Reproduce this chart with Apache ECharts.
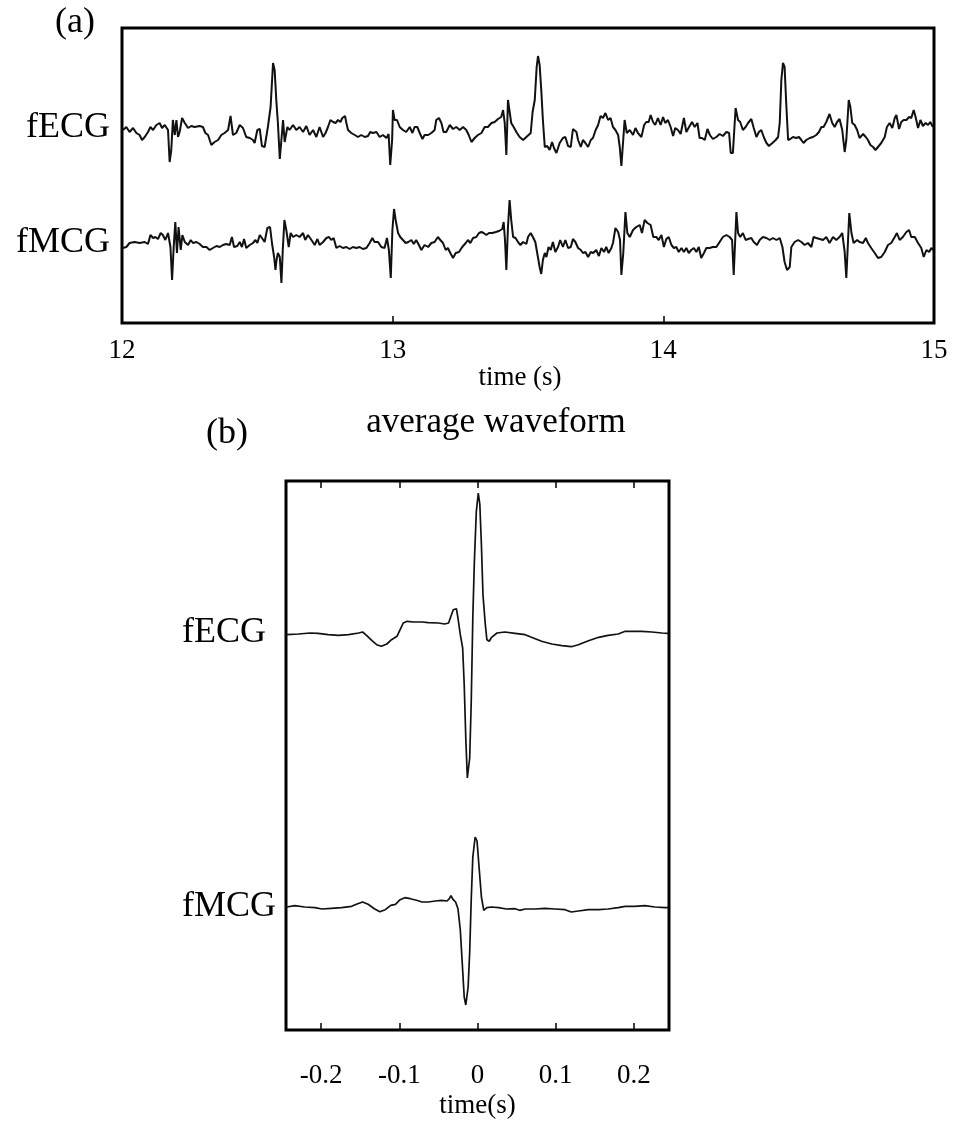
<!DOCTYPE html>
<html><head><meta charset="utf-8">
<script src="https://cdn.jsdelivr.net/npm/echarts@6/dist/echarts.min.js"></script>
<style>html,body{margin:0;padding:0;background:#fff}#c{width:956px;height:1136px}</style>
</head><body><div id="c"></div>
<script>
// ---------- Panel (a): raw traces, 12-15 s (amplitude in arbitrary units) ----------
const tA_ecg = [12.004,12.016,12.028,12.041,12.053,12.065,12.074,12.084,12.096,12.105,12.115,12.127,12.139,12.148,12.158,12.170,12.176,12.182,12.188,12.195,12.201,12.207,12.213,12.222,12.232,12.244,12.256,12.268,12.287,12.299,12.308,12.318,12.330,12.342,12.355,12.367,12.379,12.392,12.401,12.410,12.422,12.435,12.447,12.459,12.472,12.484,12.490,12.500,12.509,12.517,12.527,12.539,12.549,12.558,12.564,12.570,12.576,12.583,12.589,12.595,12.601,12.611,12.619,12.632,12.644,12.656,12.669,12.681,12.693,12.706,12.718,12.730,
12.743,12.752,12.761,12.770,12.780,12.789,12.798,12.807,12.814,12.824,12.829,12.835,12.847,12.860,12.872,12.884,12.897,12.909,12.917,12.927,12.940,12.952,12.964,12.977,12.985,12.991,12.998,13.001,13.007,13.016,13.026,13.038,13.050,13.063,13.073,13.081,13.091,13.100,13.110,13.118,13.131,13.143,13.155,13.161,13.171,13.180,13.188,13.198,13.211,13.223,13.235,13.248,13.260,13.272,13.281,13.291,13.303,13.315,13.328,13.340,13.352,13.365,13.377,13.389,13.401,13.408,13.414,13.420,13.426,13.432,13.438,13.447,13.457,13.469,13.482,13.494,
13.510,13.517,13.525,13.532,13.537,13.543,13.549,13.555,13.562,13.571,13.580,13.589,13.596,13.605,13.617,13.629,13.638,13.648,13.658,13.666,13.679,13.685,13.695,13.703,13.712,13.722,13.732,13.740,13.750,13.759,13.768,13.777,13.786,13.796,13.805,13.814,13.823,13.833,13.839,13.845,13.851,13.857,13.865,13.876,13.888,13.897,13.906,13.919,13.929,13.937,13.946,13.953,13.962,13.970,13.980,13.990,13.999,14.007,14.017,14.027,14.036,14.044,14.054,14.064,14.076,14.085,14.095,14.106,14.116,14.126,14.134,14.143,14.153,14.163,14.172,14.183,14.196,14.208,14.220,14.233,14.243,14.249,14.257,
14.267,14.276,14.284,14.294,14.304,14.313,14.325,14.334,14.344,14.353,14.362,14.371,14.381,14.390,14.403,14.415,14.424,14.430,14.436,14.442,14.448,14.454,14.461,14.469,14.479,14.491,14.501,14.510,14.518,14.528,14.541,14.553,14.565,14.575,14.584,14.592,14.602,14.614,14.624,14.633,14.642,14.651,14.661,14.670,14.676,14.685,14.691,14.698,14.707,14.716,14.725,14.738,14.748,14.756,14.765,14.775,14.784,14.793,14.805,14.818,14.826,14.836,14.846,14.855,14.861,14.871,14.879,14.888,14.898,14.908,14.916,14.925,14.932,14.941,14.950,14.959,14.969,14.978,14.986,14.996];
const vA_ecg = [-2,1,-4,0,-5,-7,-12,-9,-4,1,-2,3,5,0,3,-2,-34,-22,8,-7,8,-9,-4,10,5,0,2,1,2,1,-5,-7,-17,-14,-12,-7,-5,-2,12,-7,-5,3,0,-9,-10,-12,-15,-2,-1,-18,-19,1,21,65,58,28,5,-31,-29,8,-14,1,-2,3,-2,1,-4,2,-7,-2,-9,1,
-9,-5,1,8,6,5,8,6,10,12,5,-2,-5,-7,-9,-7,-9,-8,-4,-5,-4,-9,-7,-10,-6,-37,-12,18,8,8,1,-2,-4,1,-5,1,1,-5,-11,-7,-7,-5,-2,8,10,5,-4,-4,3,-1,1,-2,1,-2,-7,-14,-10,-7,-5,1,1,5,6,9,11,18,5,-27,28,26,5,1,-4,-9,-12,-9,
-5,16,28,61,72,63,38,8,-19,-18,-22,-14,-20,-25,-15,-10,-9,-18,-19,-1,-4,-12,-19,-12,-15,-19,-12,-10,-2,3,12,10,15,8,10,1,-2,-7,-19,-38,-15,8,-5,-2,-7,0,-5,-9,3,6,6,13,6,3,10,3,11,5,8,1,-8,0,-2,-6,10,-4,1,6,1,5,-10,-10,-12,-1,-7,-11,-9,-6,-8,-4,-5,-25,-25,
20,8,6,-2,1,5,9,0,-9,-4,-2,-9,-15,-18,-15,-12,-9,5,48,65,61,25,-12,-11,-9,-10,-9,-12,-15,-12,-10,-9,-7,-4,1,1,6,14,5,1,6,9,-2,-24,-12,28,21,5,3,-2,-10,-6,-9,-12,-17,-19,-22,-19,-15,-9,1,5,0,10,13,-1,6,8,8,11,10,18,11,0,8,2,5,3,6,1];

const tA_mcg = [12.004,12.016,12.028,12.047,12.065,12.084,12.096,12.105,12.115,12.123,12.133,12.143,12.151,12.160,12.170,12.179,12.185,12.191,12.197,12.203,12.209,12.217,12.223,12.232,12.244,12.254,12.262,12.275,12.287,12.299,12.312,12.324,12.336,12.349,12.361,12.373,12.385,12.398,12.406,12.414,12.426,12.435,12.443,12.451,12.459,12.472,12.484,12.493,12.500,12.509,12.517,12.527,12.537,12.547,12.554,12.562,12.567,12.571,12.576,12.583,12.589,12.594,12.600,12.607,12.616,12.623,12.632,12.644,12.656,12.669,12.677,12.687,12.700,12.712,12.722,12.730,
12.743,12.755,12.765,12.773,12.782,12.792,12.804,12.816,12.829,12.841,12.853,12.866,12.878,12.890,12.903,12.915,12.925,12.933,12.946,12.958,12.970,12.979,12.986,12.993,12.999,13.005,13.011,13.020,13.028,13.038,13.048,13.058,13.069,13.078,13.087,13.097,13.106,13.118,13.131,13.143,13.155,13.167,13.176,13.186,13.196,13.204,13.213,13.223,13.233,13.245,13.257,13.270,13.278,13.287,13.297,13.309,13.319,13.328,13.336,13.346,13.356,13.368,13.381,13.393,13.405,13.410,13.415,13.420,13.426,13.432,13.438,13.445,13.454,13.463,13.472,13.482,13.494,
13.500,13.510,13.518,13.527,13.534,13.543,13.549,13.555,13.562,13.568,13.576,13.584,13.592,13.601,13.611,13.619,13.629,13.638,13.648,13.658,13.666,13.675,13.685,13.695,13.703,13.712,13.722,13.732,13.741,13.752,13.762,13.771,13.781,13.789,13.798,13.808,13.814,13.823,13.833,13.840,13.845,13.852,13.860,13.867,13.876,13.888,13.900,13.913,13.921,13.931,13.941,13.953,13.963,13.974,13.983,13.993,14.002,14.011,14.020,14.030,14.039,14.048,14.057,14.067,14.076,14.085,14.094,14.103,14.113,14.122,14.131,14.140,14.150,14.159,14.171,14.183,14.196,14.208,14.220,14.233,14.245,14.254,14.260,
14.270,14.276,14.284,14.294,14.304,14.313,14.325,14.334,14.346,14.356,14.368,14.381,14.393,14.405,14.418,14.430,14.440,14.448,14.457,14.467,14.473,14.485,14.498,14.510,14.522,14.534,14.547,14.555,14.565,14.578,14.590,14.602,14.614,14.627,14.639,14.651,14.661,14.670,14.676,14.682,14.687,14.695,14.703,14.716,14.725,14.738,14.748,14.756,14.768,14.781,14.793,14.805,14.818,14.830,14.842,14.855,14.863,14.873,14.885,14.898,14.908,14.916,14.929,14.941,14.953,14.962,14.972,14.982,14.990,14.996];
const vA_mcg = [-3,-2,2,3,2,3,1,10,7,8,6,12,10,5,12,-2,-35,-2,23,-8,18,-5,10,3,0,5,2,3,1,-2,-2,-5,-3,-1,-2,0,1,0,8,-2,-1,3,-2,6,-3,0,2,5,2,10,7,3,17,18,2,-12,-25,-15,-8,-12,-38,-5,25,15,-2,12,8,10,8,12,5,10,5,0,6,0,
3,7,8,5,7,-3,-1,-3,-2,-4,-2,-3,-2,-4,-3,2,7,3,3,-2,-3,7,-5,-33,15,36,25,12,8,5,2,3,5,1,5,0,-5,0,-2,2,3,8,5,2,-5,-3,-8,-13,-8,-7,-2,2,5,2,7,8,12,13,12,10,12,12,13,14,16,23,5,-25,18,45,25,8,7,3,0,3,1,
8,12,8,3,-8,-22,-29,-15,-8,-12,-2,-5,3,-7,-2,5,-2,5,-3,-2,6,3,-3,-5,-8,-7,-12,-7,-8,-5,-11,-3,-7,-2,-8,-3,2,17,13,5,-30,-8,33,12,8,15,18,20,12,25,22,20,8,8,5,10,-2,6,8,0,-3,-2,-7,-3,-7,-3,-8,-5,-3,-7,-2,-13,-8,-3,-3,-2,-2,3,8,10,8,5,-30,
33,12,8,12,5,6,7,3,0,5,8,7,5,7,5,7,-2,-17,-25,-22,-2,3,5,3,0,2,-2,8,7,6,5,8,2,8,5,8,12,-7,-33,2,32,12,2,5,3,2,7,2,-3,-8,-13,-12,-7,0,2,8,12,5,8,13,15,8,8,2,-3,-12,-5,-7,-3,-5];

// ---------- Panel (b): average waveforms, -0.245..0.245 s ----------
const tB_ecg = [-0.244,-0.229,-0.214,-0.204,-0.191,-0.178,-0.165,-0.152,-0.147,-0.142,-0.135,-0.129,-0.123,-0.116,-0.110,-0.103,-0.099,-0.095,-0.090,-0.082,-0.071,-0.063,-0.050,-0.042,-0.037,-0.034,-0.031,-0.027,-0.025,-0.022,-0.019,-0.017,-0.015,-0.013,-0.010,-0.008,-0.006,-0.004,-0.0015,0.001,0.003,0.005,0.007,0.010,0.012,0.015,0.018,0.025,0.035,0.048,0.061,0.069,0.082,0.095,0.108,0.120,0.129,0.142,0.155,0.167,0.180,0.189,0.197,0.210,0.223,0.236,0.244];
const vB_ecg = [-0.7,0,1,0.7,-0.7,-1.3,-0.7,1,2,-1.3,-6.7,-10.7,-12.3,-10,-5.7,-2.3,4.3,11,12.7,12,12,11.3,11,10,11,17.7,24.3,25.3,16,-0.7,-14,-50.7,-104,-144,-124,-67.3,16,72.7,122.7,141,129.3,89.3,39.3,9.3,-5.7,-7.3,-3.3,1,2,0.7,-0.7,-3.3,-7.3,-10,-11.7,-12.7,-10.7,-6.7,-3.3,-1.3,0,2.7,2.7,2.7,2,1,0.7];

const tB_mcg = [-0.244,-0.234,-0.221,-0.208,-0.199,-0.187,-0.174,-0.161,-0.155,-0.147,-0.140,-0.132,-0.125,-0.118,-0.111,-0.105,-0.099,-0.093,-0.086,-0.078,-0.071,-0.063,-0.054,-0.046,-0.039,-0.036,-0.034,-0.031,-0.028,-0.025,-0.022,-0.019,-0.017,-0.015,-0.012,-0.010,-0.008,-0.006,-0.003,-0.0006,0.002,0.005,0.008,0.012,0.018,0.027,0.037,0.048,0.054,0.061,0.074,0.086,0.099,0.112,0.120,0.129,0.142,0.155,0.167,0.180,0.189,0.201,0.214,0.227,0.240,0.244];
const vB_mcg = [0,1.3,0,-0.7,-2,-1.3,-0.7,0.7,2.7,5,2.7,-1.7,-4.7,-2.7,1.7,2.7,7.3,9.3,8.3,6.7,5,5,6,6.7,6,8.3,11.3,7.3,5,-1.7,-23,-63,-90,-98,-80,-45,8,50,70,66,40,10,-3.3,-0.7,0,-0.7,-2,-1.7,-3.3,-2,-2,-1.3,-2,-2.7,-5,-4,-2.7,-2.7,-2,-0.7,0.7,0.7,1.3,0,-0.7,-0.7];

const xTicksA = [12, 13, 14, 15];

// vertical placement of the stacked traces (display offsets)
const OFF_A = {ecg:195, mcg:78}, OFF_B = {ecg:396, mcg:123};
function zip(t, v, off){ return t.map((x,i)=>[x, v[i]+off]); }

const FONT = '"Liberation Serif","Times New Roman",serif';
const chart = echarts.init(document.getElementById('c'));
const tickStyle = {inside:true, length:7, lineStyle:{color:'#000', width:1.5}};
function bLabel(v){ const r = Math.round(v*10)/10; return Math.abs(v-r) < 1e-6 ? String(r) : ''; }

chart.setOption({
  animation:false,
  backgroundColor:'#fff',
  grid:[
    {left:122, top:28, width:812, height:295, show:true, borderColor:'#000', borderWidth:3},
    {left:286, top:481, width:383, height:549, show:true, borderColor:'#000', borderWidth:3}
  ],
  xAxis:[
    {gridIndex:0, type:'value', min:xTicksA[0], max:xTicksA[xTicksA.length-1], interval:1,
     axisLine:{show:false}, axisTick:tickStyle, splitLine:{show:false},
     axisLabel:{color:'#000', fontFamily:FONT, fontSize:27, margin:14},
     name:'time (s)', nameLocation:'middle', nameGap:33,
     nameTextStyle:{color:'#000', fontFamily:FONT, fontSize:27, padding:[0,16,0,0]}},
    {gridIndex:1, type:'value', min:-0.245, max:0.245, splitNumber:5,
     axisLine:{show:false}, axisTick:tickStyle, splitLine:{show:false},
     axisLabel:{color:'#000', fontFamily:FONT, fontSize:27, margin:32, formatter:bLabel, showMinLabel:false, showMaxLabel:false},
     name:'time(s)', nameLocation:'middle', nameGap:62,
     nameTextStyle:{color:'#000', fontFamily:FONT, fontSize:27}},
    {gridIndex:1, type:'value', position:'top', min:-0.245, max:0.245, splitNumber:5,
     axisLine:{show:false}, axisTick:tickStyle, splitLine:{show:false}, axisLabel:{show:false}}
  ],
  yAxis:[
    {gridIndex:0, type:'value', min:0, max:295, show:false},
    {gridIndex:1, type:'value', min:0, max:549, show:false}
  ],
  series:[
    {type:'line', xAxisIndex:0, yAxisIndex:0, data:zip(tA_ecg, vA_ecg, OFF_A.ecg), showSymbol:false, lineStyle:{color:'#111', width:2}},
    {type:'line', xAxisIndex:0, yAxisIndex:0, data:zip(tA_mcg, vA_mcg, OFF_A.mcg), showSymbol:false, lineStyle:{color:'#111', width:2}},
    {type:'line', xAxisIndex:1, yAxisIndex:1, data:zip(tB_ecg, vB_ecg, OFF_B.ecg), showSymbol:false, lineStyle:{color:'#111', width:1.7}},
    {type:'line', xAxisIndex:1, yAxisIndex:1, data:zip(tB_mcg, vB_mcg, OFF_B.mcg), showSymbol:false, lineStyle:{color:'#111', width:1.7}}
  ],
  graphic:[
    {type:'text', x:75, y:23, style:{text:'(a)', fontFamily:FONT, fontSize:36, fill:'#000', textAlign:'center', textVerticalAlign:'middle'}},
    {type:'text', x:110, y:128, style:{text:'fECG', fontFamily:FONT, fontSize:36, fill:'#000', textAlign:'right', textVerticalAlign:'middle'}},
    {type:'text', x:110, y:243, style:{text:'fMCG', fontFamily:FONT, fontSize:36, fill:'#000', textAlign:'right', textVerticalAlign:'middle'}},
    {type:'text', x:227, y:434, style:{text:'(b)', fontFamily:FONT, fontSize:36, fill:'#000', textAlign:'center', textVerticalAlign:'middle'}},
    {type:'text', x:496, y:423, style:{text:'average waveform', fontFamily:FONT, fontSize:35, fill:'#000', textAlign:'center', textVerticalAlign:'middle'}},
    {type:'text', x:266, y:633, style:{text:'fECG', fontFamily:FONT, fontSize:36, fill:'#000', textAlign:'right', textVerticalAlign:'middle'}},
    {type:'text', x:276, y:907, style:{text:'fMCG', fontFamily:FONT, fontSize:36, fill:'#000', textAlign:'right', textVerticalAlign:'middle'}}
  ]
});
</script></body></html>
